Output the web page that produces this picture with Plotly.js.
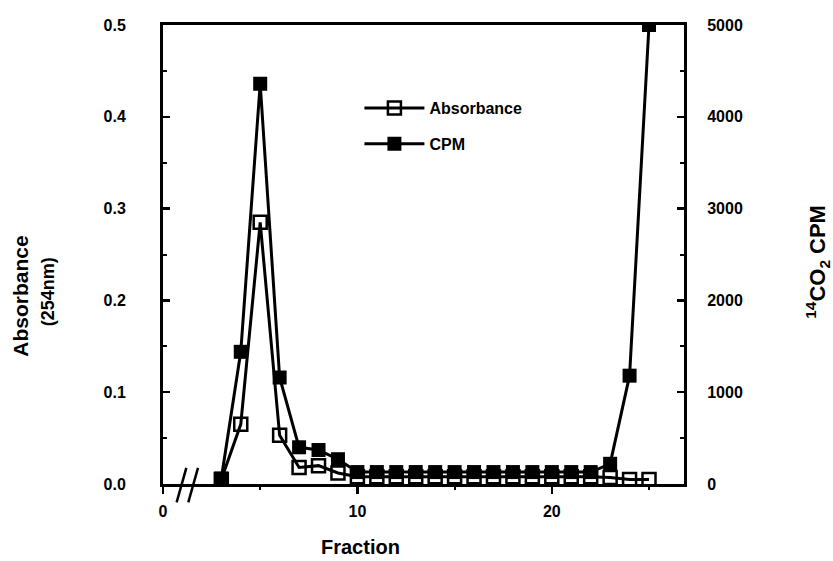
<!DOCTYPE html>
<html>
<head>
<meta charset="utf-8">
<script src="https://cdn.plot.ly/plotly-3.0.1.min.js"></script>
<style>html,body{margin:0;padding:0;background:#fff;}#chart{width:833px;height:561px;}</style>
</head>
<body>
<div id="chart"></div>
<script>
var fractions = [3,4,5,6,7,8,9,10,11,12,13,14,15,16,17,18,19,20,21,22,23,24,25];
var absorbance = [0.005,0.065,0.285,0.053,0.018,0.02,0.012,0.008,0.008,0.008,0.008,0.008,0.008,0.008,0.008,0.008,0.008,0.008,0.008,0.008,0.007,0.005,0.005];
var cpm = [60,1440,4360,1160,400,370,270,130,130,130,130,130,130,130,130,130,130,130,130,130,220,1180,5000];
var xTicks = [0,10,20];
var yTicks = [0.0,0.1,0.2,0.3,0.4,0.5];
var yTickText = ['0.0','0.1','0.2','0.3','0.4','0.5'];
var y2Ticks = [0,1000,2000,3000,4000,5000];

var F = 'Liberation Sans, Arial, Helvetica, sans-serif';
var tickFont = {family: F, size: 16, color: '#000', weight: 'bold'};

var traces = [
  {x: fractions, y: absorbance, name: 'Absorbance', type: 'scatter', mode: 'lines+markers',
   legendgroup: 'a',
   line: {color: '#000', width: 3},
   marker: {symbol: 'square-open', size: 13, color: '#000', line: {color: '#000', width: 2.5}},
   xaxis: 'x', yaxis: 'y'},
  {x: fractions, y: cpm, name: 'CPM', type: 'scatter', mode: 'lines+markers',
   legendgroup: 'b',
   line: {color: '#000', width: 3},
   marker: {symbol: 'square', size: 14, color: '#000'},
   xaxis: 'x', yaxis: 'y2'}
];

var layout = {
  width: 833, height: 561,
  margin: {l: 163, r: 149, t: 25, b: 77},
  paper_bgcolor: '#fff', plot_bgcolor: '#fff',
  showlegend: true,
  legend: {x: 0.377, y: 0.856, xanchor: 'left', yanchor: 'top',
           font: {family: F, size: 16, color: '#000', weight: 'bold'},
           bgcolor: 'rgba(0,0,0,0)', traceorder: 'grouped', tracegroupgap: 12, itemwidth: 60},
  xaxis: {range: [0, 26.8], tickvals: xTicks, ticks: 'outside', ticklen: 7, tickwidth: 2.5,
          tickcolor: '#000', showline: true, linewidth: 3, linecolor: '#000', mirror: true,
          showgrid: false, zeroline: false, tickfont: tickFont, ticklabelstandoff: 4,
          minor: {tickvals: [5, 15, 25], ticks: 'outside', ticklen: 3, tickwidth: 2, tickcolor: '#000'}},
  yaxis: {range: [0, 0.5], tickvals: yTicks, ticktext: yTickText, ticks: 'inside', ticklen: 7, tickwidth: 2.5,
          tickcolor: '#000', showline: true, linewidth: 3, linecolor: '#000', mirror: false,
          showgrid: false, zeroline: false, tickfont: tickFont, ticklabelstandoff: 31,
          minor: {tickvals: [0.05,0.15,0.25,0.35,0.45], ticks: 'inside', ticklen: 4, tickwidth: 2, tickcolor: '#000'}},
  yaxis2: {range: [0, 5000], overlaying: 'y', side: 'right', tickvals: y2Ticks, ticks: 'inside', ticklen: 7, tickwidth: 2.5,
          tickcolor: '#000', showline: true, linewidth: 3, linecolor: '#000',
          showgrid: false, zeroline: false, tickfont: tickFont, ticklabelstandoff: 17,
          minor: {tickvals: [500,1500,2500,3500,4500], ticks: 'inside', ticklen: 4, tickwidth: 2, tickcolor: '#000'}},
  shapes: [
    {type: 'line', xref: 'x', yref: 'paper', x0: 0.7, y0: -0.04, x1: 1.2, y1: 0.035, line: {color: '#000', width: 2.5}},
    {type: 'line', xref: 'x', yref: 'paper', x0: 1.3, y0: -0.04, x1: 1.8, y1: 0.035, line: {color: '#000', width: 2.5}}
  ],
  annotations: [
    {text: 'Fraction', xref: 'paper', yref: 'paper', x: 0.38, y: -0.137, xanchor: 'center', yanchor: 'middle', showarrow: false,
     font: {family: F, size: 20, color: '#000', weight: 'bold'}},
    {text: 'Absorbance', xref: 'paper', yref: 'paper', x: -0.2726, y: 0.41, xanchor: 'center', yanchor: 'middle', textangle: -90, showarrow: false,
     font: {family: F, size: 21, color: '#000', weight: 'bold'}},
    {text: '(254nm)', xref: 'paper', yref: 'paper', x: -0.2207, y: 0.418, xanchor: 'center', yanchor: 'middle', textangle: -90, showarrow: false,
     font: {family: F, size: 18, color: '#000', weight: 'bold'}},
    {text: '<sup>14</sup>CO<sub>2</sub> CPM', xref: 'paper', yref: 'paper', x: 1.257, y: 0.484, xanchor: 'center', yanchor: 'middle', textangle: -90, showarrow: false,
     font: {family: F, size: 22, color: '#000', weight: 'bold'}}
  ]
};

Plotly.newPlot('chart', traces, layout, {displayModeBar: false, staticPlot: true});
</script>
</body>
</html>
